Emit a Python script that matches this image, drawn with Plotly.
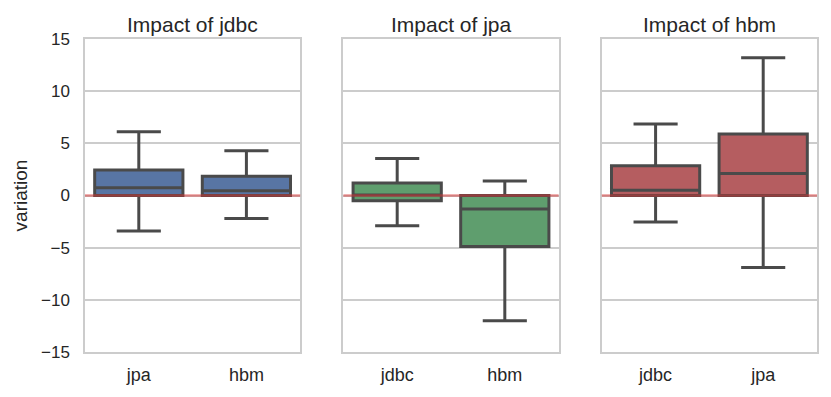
import plotly.graph_objects as go
from plotly.subplots import make_subplots

# panel titles and categories
titles = ["Impact of jdbc", "Impact of jpa", "Impact of hbm"]
cats_jdbc = ["jpa", "hbm"]
cats_jpa = ["jdbc", "hbm"]
cats_hbm = ["jdbc", "jpa"]

# box statistics
low_jdbc = [-3.4, -2.2]
q1_jdbc = [0.0, 0.0]
med_jdbc = [0.75, 0.45]
q3_jdbc = [2.45, 1.85]
up_jdbc = [6.1, 4.3]

low_jpa = [-2.9, -12.0]
q1_jpa = [-0.5, -4.9]
med_jpa = [0.05, -1.3]
q3_jpa = [1.2, 0.0]
up_jpa = [3.55, 1.4]

low_hbm = [-2.55, -6.9]
q1_hbm = [0.0, 0.0]
med_hbm = [0.5, 2.1]
q3_hbm = [2.85, 5.9]
up_hbm = [6.85, 13.2]

colors = ["#5875A4", "#5F9E6E", "#B55D60"]
line_col = "#4a4a4a"

panels = [
    (cats_jdbc, low_jdbc, q1_jdbc, med_jdbc, q3_jdbc, up_jdbc),
    (cats_jpa, low_jpa, q1_jpa, med_jpa, q3_jpa, up_jpa),
    (cats_hbm, low_hbm, q1_hbm, med_hbm, q3_hbm, up_hbm),
]

fig = make_subplots(rows=1, cols=3, subplot_titles=titles, shared_yaxes=True,
                    horizontal_spacing=0.059)

for i, (cats, lo, q1, med, q3, up) in enumerate(panels):
    fig.add_trace(go.Box(
        x=cats, q1=q1, median=med, q3=q3, lowerfence=lo, upperfence=up,
        width=0.82, fillcolor=colors[i], line=dict(color=line_col, width=3),
        whiskerwidth=0.5, boxpoints=False, hoverinfo="skip", showlegend=False,
    ), row=1, col=i + 1)
    fig.add_hline(y=0, line=dict(color="rgba(220,50,50,0.5)", width=2.5),
                  layer="above", row=1, col=i + 1)

font = "Liberation Sans, Arial, sans-serif"
for i in range(1, 4):
    fig.update_xaxes(showgrid=False, showline=True, linecolor="#cccccc", linewidth=1.5,
                     mirror=True, zeroline=False, ticks="", range=[-0.5, 1.5],
                     automargin=False, ticklabelstandoff=6,
                     tickfont=dict(size=18, color="#262626", family=font),
                     row=1, col=i)
    fig.update_yaxes(range=[-15, 15], dtick=5, showgrid=True, gridcolor="#cccccc",
                     gridwidth=1.5, showline=True, linecolor="#cccccc", linewidth=1.5,
                     mirror=True, zeroline=False, ticks="", automargin=False,
                     tickfont=dict(size=17, color="#262626", family=font),
                     row=1, col=i)

fig.update_yaxes(title=dict(text="variation", font=dict(size=19, color="#262626", family=font),
                            standoff=8), ticklabelstandoff=10, row=1, col=1)

for ann in fig.layout.annotations:
    ann.font = dict(size=21, color="#262626", family=font)
    ann.yshift = 1

# page body has an 8px margin, so the figure is offset by 8px
fig.update_layout(
    width=815, height=381,
    margin=dict(l=77, r=6, t=31, b=37),
    paper_bgcolor="white", plot_bgcolor="white",
    font=dict(family=font, color="#262626"),
)

fig.write_html("out.html")
